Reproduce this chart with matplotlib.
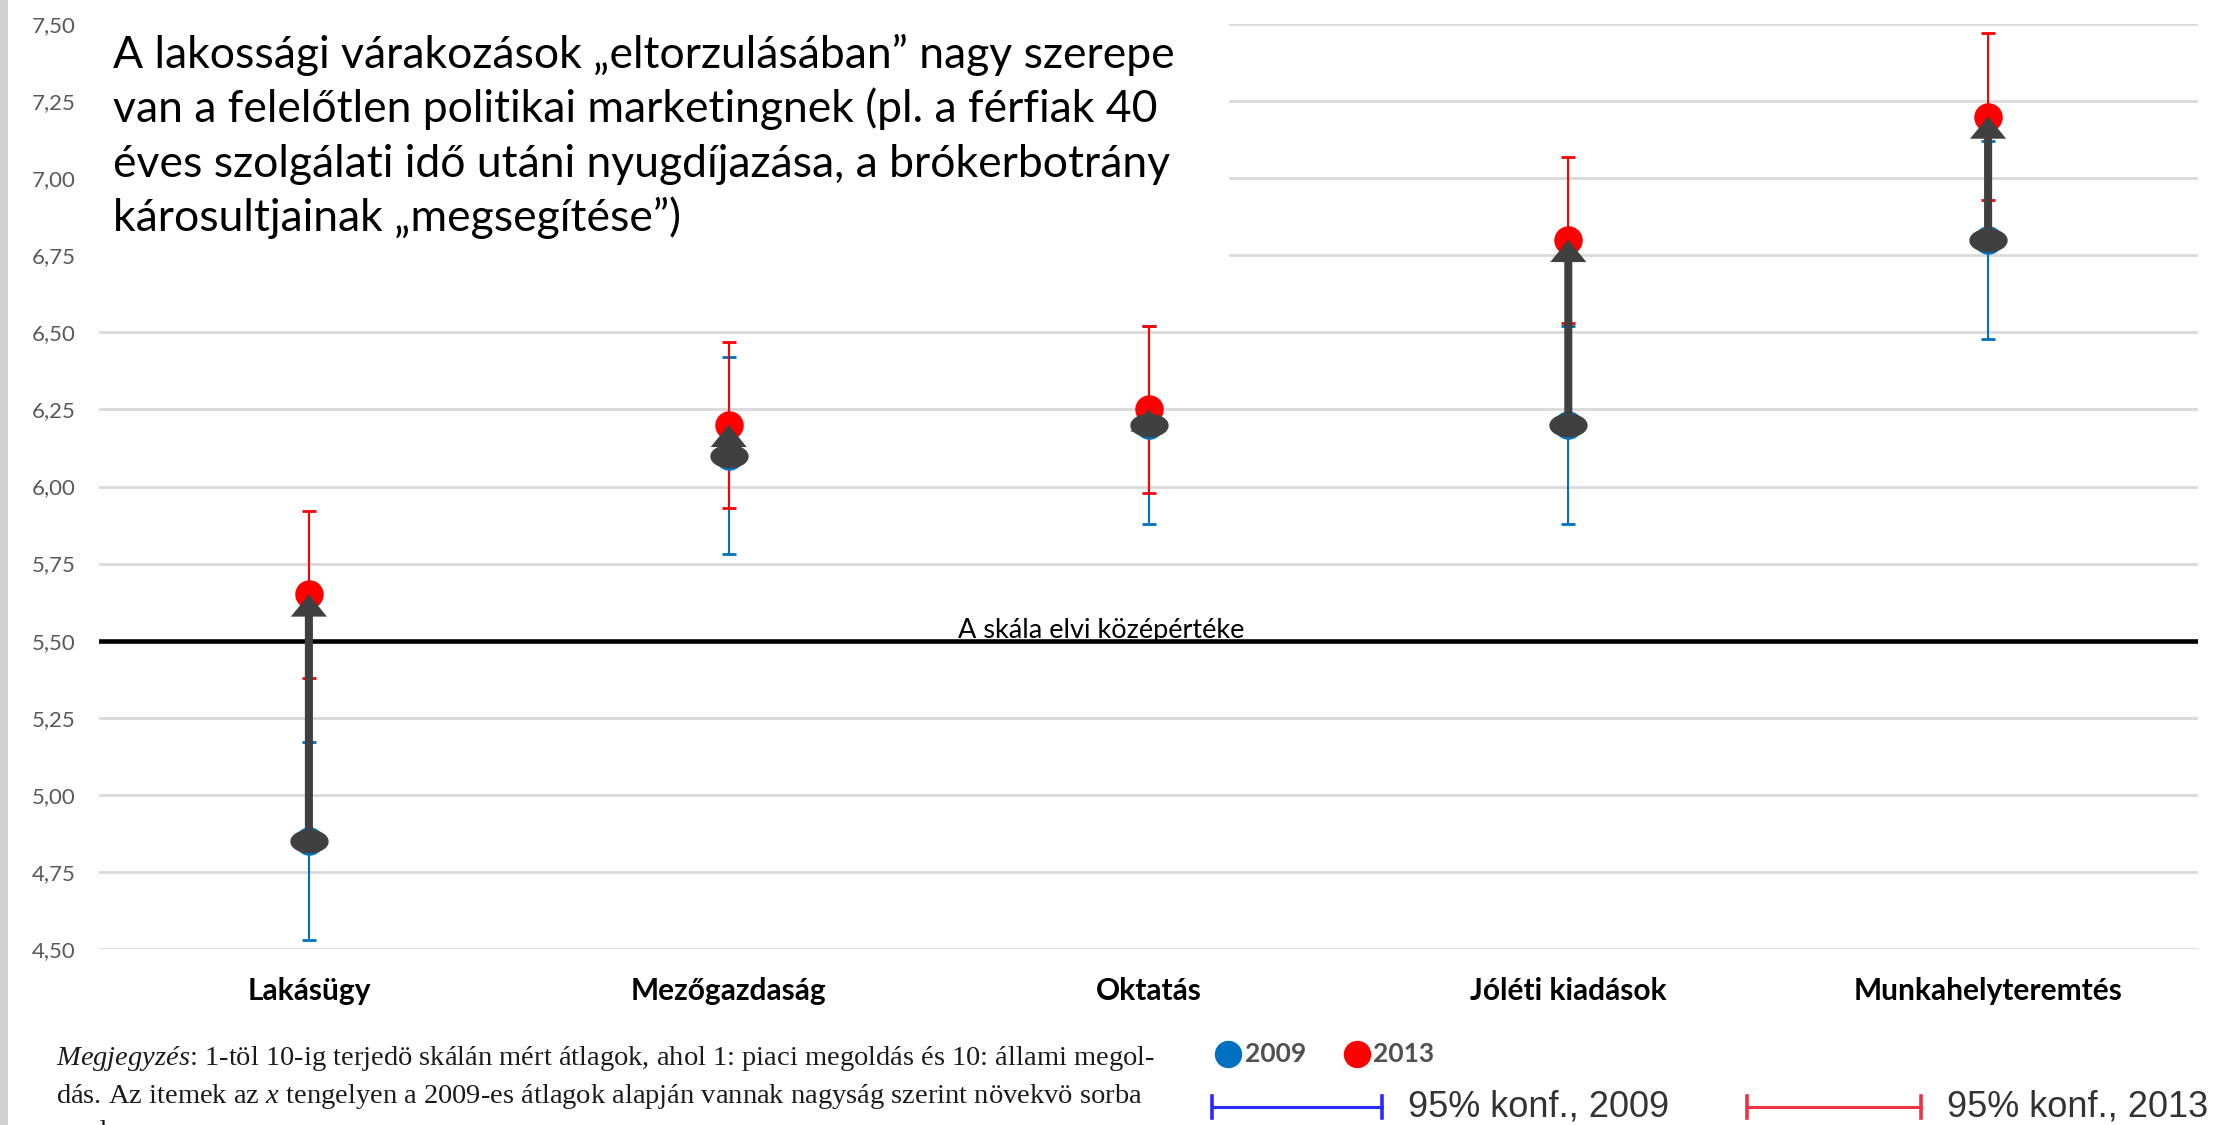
import numpy as np
import matplotlib.pyplot as plt
from matplotlib.lines import Line2D
from matplotlib.patches import Rectangle
from matplotlib.path import Path

plt.rcParams['font.family'] = ['Lato', 'DejaVu Sans']
plt.rcParams['mathtext.fontset'] = 'custom'
plt.rcParams['mathtext.rm'] = 'Liberation Serif'
plt.rcParams['mathtext.it'] = 'Liberation Serif:italic'

# adatok (leolvasva az abrarol)
categories = ['Lakásügy', 'Mezőgazdaság', 'Oktatás', 'Jóléti kiadások', 'Munkahelyteremtés']
mean_2009 = [4.85, 6.10, 6.20, 6.20, 6.80]
low_2009 = [4.53, 5.78, 5.88, 5.88, 6.48]
high_2009 = [5.17, 6.42, 6.52, 6.52, 7.12]
mean_2013 = [5.65, 6.20, 6.25, 6.80, 7.20]
low_2013 = [5.38, 5.93, 5.98, 6.53, 6.93]
high_2013 = [5.92, 6.47, 6.52, 7.07, 7.47]
yticks = [4.50, 4.75, 5.00, 5.25, 5.50, 5.75, 6.00, 6.25, 6.50, 6.75, 7.00, 7.25, 7.50]
midpoint = 5.5

box_lines = ['A lakossági várakozások „eltorzulásában” nagy szerepe',
             'van a felelőtlen politikai marketingnek (pl. a férfiak 40',
             'éves szolgálati idő utáni nyugdíjazása, a brókerbotrány',
             'károsultjainak „megsegítése”)']
note_lines = [r'$\mathit{Megjegyzés}$: 1-töl 10-ig terjedö skálán mért átlagok, ahol 1: piaci megoldás és 10: állami megol-',
              r'dás. Az itemek az $\mathit{x}$ tengelyen a 2009-es átlagok alapján vannak nagyság szerint növekvö sorba',
              'rendezve.']

W, H = 2214, 1125


def fx(px):
    return px / W


def fy(py):
    return 1 - py / H


fig = plt.figure(figsize=(W / 100, H / 100), dpi=100)
ax = fig.add_axes([fx(99), fy(949), (2198 - 99) / W, (949 - 24) / H])

x = np.arange(len(categories))
m09 = np.array(mean_2009)
m13 = np.array(mean_2013)
err09 = [m09 - np.array(low_2009), np.array(high_2009) - m09]
err13 = [m13 - np.array(low_2013), np.array(high_2013) - m13]

ax.set_xlim(-0.5, len(categories) - 0.5)
ax.set_ylim(yticks[0], yticks[-1])
ax.set_yticks(yticks)
ax.set_yticklabels([f'{v:.2f}'.replace('.', ',') for v in yticks], color='#595959', fontsize=16)
ax.set_xticks(x)
ax.set_xticklabels(categories, fontweight='bold', fontsize=21.5)
ax.tick_params(length=0)
ax.tick_params(axis='y', pad=17)
ax.tick_params(axis='x', pad=20)
ax.grid(axis='y', color='#D9D9D9', lw=2)
ax.set_axisbelow(True)
for s in ax.spines.values():
    s.set_visible(False)

ax.axhline(midpoint, color='black', lw=3.3, zorder=2)
ax.text(0.4774, midpoint + 0.008, 'A skála elvi középértéke', transform=ax.get_yaxis_transform(),
        ha='center', va='baseline', fontsize=19.5)

ax.errorbar(x, m09, yerr=err09, fmt='none', ecolor='#0070C0', elinewidth=1.5, capsize=4.7, capthick=2, zorder=3)
ax.errorbar(x, m13, yerr=err13, fmt='none', ecolor='#FF0000', elinewidth=1.5, capsize=4.7, capthick=2, zorder=3.2)
ax.plot(x, m09, 'o', ms=19.5, color='#0070C0', zorder=3.5)
ax.plot(x, m13, 'o', ms=19.5, color='#FF0000', zorder=3.6)

# valtozas nyilai
for xi, a, b in zip(x, m09, m13):
    ax.annotate('', xy=(xi, b), xytext=(xi, a),
                arrowprops=dict(arrowstyle='simple,head_length=16,head_width=26,tail_width=5.8',
                                mutation_scale=1, fc='#404040', ec='none', shrinkA=0, shrinkB=0),
                zorder=5)
theta = np.linspace(0, 2 * np.pi, 60)
oval = Path(np.column_stack([np.cos(theta), 0.6 * np.sin(theta)]))
ax.plot(x, m09, ls='none', marker=oval, ms=26.6, color='#404040', zorder=6)

# szovegdoboz
fig.add_artist(Rectangle((fx(96), fy(270)), (1229 - 96) / W, 270 / H, transform=fig.transFigure,
                         fc='white', ec='none', zorder=1))
for line, base in zip(box_lines, [68, 122, 177, 231]):
    fig.text(fx(113), fy(base), line, fontsize=32, va='baseline', zorder=2)

fig.add_artist(Rectangle((0, 0), fx(8), 1, transform=fig.transFigure, fc='#D0D0D0', ec='none', zorder=1))

# megjegyzes
for line, base in zip(note_lines, [1065, 1103, 1139]):
    fig.text(fx(56), fy(base), line, family='Liberation Serif', fontsize=20.5, va='baseline', color='#1a1a1a')

# jelmagyarazat
for cx, tx, col, lab in [(1228, 1245, '#0070C0', '2009'), (1357, 1373, '#FF0000', '2013')]:
    fig.add_artist(Line2D([fx(cx)], [fy(1054)], marker='o', ms=18.7, color=col, ls='none',
                          transform=fig.transFigure))
    fig.text(fx(tx), fy(1054), lab, va='center', fontsize=19, fontweight='bold', color='#505050')

for x0, x1, col, lab in [(1212, 1382, '#2a2aff', '95% konf., 2009'), (1747, 1921, '#ee3344', '95% konf., 2013')]:
    fig.add_artist(Line2D([fx(x0), fx(x1)], [fy(1107)] * 2, color=col, lw=2.2, transform=fig.transFigure))
    for xx in (x0, x1):
        fig.add_artist(Line2D([fx(xx)] * 2, [fy(1096), fy(1118)], color=col, lw=2.6, transform=fig.transFigure))
    fig.text(fx(x1 + 26), fy(1107), lab, va='center', family='Liberation Sans', fontsize=26, color='#333333')

fig.savefig('out.png', dpi=100)
